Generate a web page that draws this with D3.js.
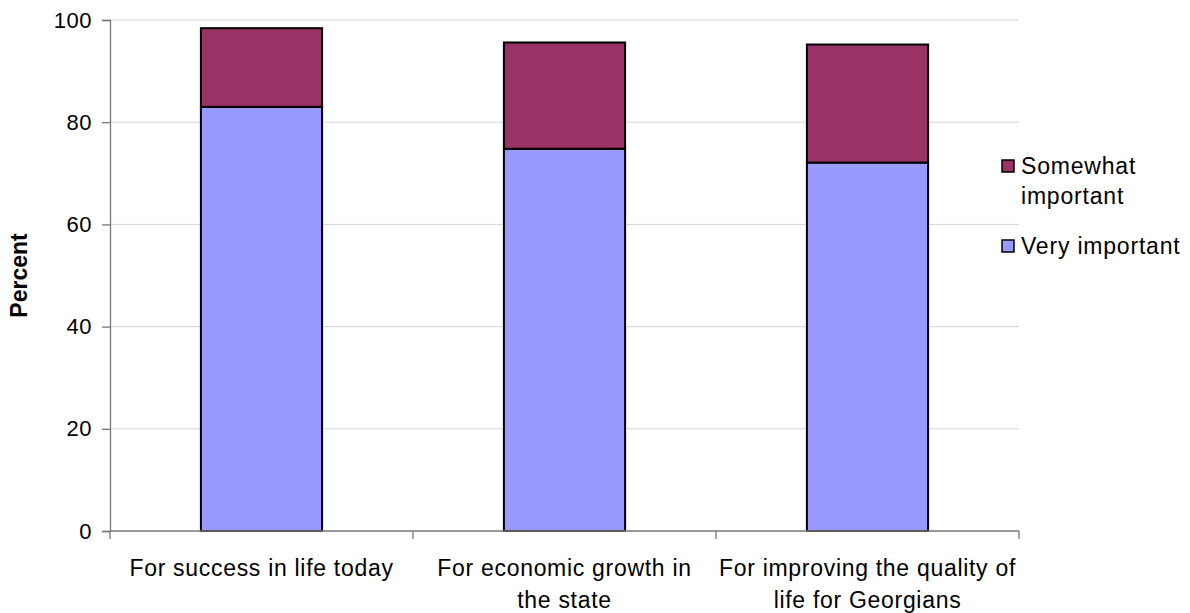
<!DOCTYPE html>
<html>
<head>
<meta charset="utf-8">
<script src="https://cdn.jsdelivr.net/npm/d3@7"></script>
<style>
  html, body { margin: 0; padding: 0; background: #fff; }
  text { font-family: "Liberation Sans", Arial, sans-serif; fill: #000; }
</style>
</head>
<body>
<svg id="chart" width="1190" height="613"></svg>
<script>
// Why each area matters: share of respondents, by level of importance
const categories = ["For success in life today", "For economic growth in the state", "For improving the quality of life for Georgians"];
const categoryLines = [
  ["For success in life today"],
  ["For economic growth in", "the state"],
  ["For improving the quality of", "life for Georgians"]
];
const veryImportant = [83.0, 74.8, 72.1];
const somewhatImportant = [15.4, 20.8, 23.1];
const yTicks = [0, 20, 40, 60, 80, 100];
const seriesNames = ["Very important", "Somewhat important"];
const seriesColors = ["#9999ff", "#993366"];

const svg = d3.select("#chart");
const margin = { left: 110, right: 171, top: 20, bottom: 82 };
const W = 1190, H = 613;
const x0 = margin.left, x1 = W - margin.right;
const yTop = margin.top, yBot = H - margin.bottom;

const x = d3.scaleBand().domain(categories).range([x0, x1]).paddingInner(0.6).paddingOuter(0.3);
const y = d3.scaleLinear().domain([0, 100]).range([yBot, yTop]);

// Horizontal gridlines
svg.append("g").selectAll("line").data(yTicks.filter(t => t > 0)).join("line")
  .attr("x1", x0).attr("x2", x1)
  .attr("y1", d => y(d)).attr("y2", d => y(d))
  .attr("stroke", "#d4d4d4").attr("stroke-width", 1);

// Stacked bars
const stackData = categories.map((c, i) => ({ cat: c, very: veryImportant[i], somewhat: somewhatImportant[i] }));
const stacked = d3.stack().keys(["very", "somewhat"])(stackData);

svg.append("g").selectAll("g").data(stacked).join("g")
  .attr("fill", (d, i) => seriesColors[i])
  .selectAll("rect").data(d => d).join("rect")
  .attr("x", d => x(d.data.cat))
  .attr("width", x.bandwidth())
  .attr("y", d => y(d[1]))
  .attr("height", d => y(d[0]) - y(d[1]))
  .attr("stroke", "#000").attr("stroke-width", 2);

// Y axis
const yAxis = svg.append("g").attr("transform", `translate(${x0},0)`)
  .call(d3.axisLeft(y).tickValues(yTicks).tickSize(8).tickPadding(10));
yAxis.select(".domain").attr("stroke", "#777").attr("stroke-width", 1.3);
yAxis.selectAll(".tick line").attr("stroke", "#777").attr("stroke-width", 1.3);
yAxis.selectAll(".tick text")
  .style("font-family", "Liberation Sans, Arial, sans-serif")
  .style("font-size", "22px").style("letter-spacing", "0.5px").attr("fill", "#000");

// X axis: baseline with ticks at category boundaries
const boundaries = d3.range(categories.length + 1).map(i => x0 + i * (x1 - x0) / categories.length);
svg.append("line").attr("x1", x0).attr("x2", x1).attr("y1", yBot).attr("y2", yBot)
  .attr("stroke", "#777").attr("stroke-width", 1.3);
svg.append("g").selectAll("line").data(boundaries).join("line")
  .attr("x1", d => d).attr("x2", d => d)
  .attr("y1", yBot).attr("y2", yBot + 8)
  .attr("stroke", "#777").attr("stroke-width", 1.3);

// Category labels
const labels = svg.append("g").selectAll("text").data(categories).join("text")
  .attr("text-anchor", "middle")
  .style("font-size", "23px")
  .style("letter-spacing", "0.7px")
  .attr("x", d => x(d) + x.bandwidth() / 2)
  .attr("y", yBot + 45);
labels.each(function (d, i) {
  const t = d3.select(this);
  categoryLines[i].forEach((line, j) => {
    t.append("tspan")
      .attr("x", x(d) + x.bandwidth() / 2)
      .attr("dy", j === 0 ? 0 : 32)
      .text(line);
  });
});

// Y axis title
svg.append("text")
  .attr("transform", `translate(27,${(yTop + yBot) / 2}) rotate(-90)`)
  .attr("text-anchor", "middle")
  .style("font-size", "23px").style("font-weight", "bold")
  .text("Percent");

// Legend
const legend = svg.append("g");
const legendItems = [
  { name: "Somewhat important", lines: ["Somewhat", "important"], color: seriesColors[1], top: 160 },
  { name: "Very important", lines: ["Very important"], color: seriesColors[0], top: 240 }
];
legendItems.forEach(item => {
  legend.append("rect")
    .attr("x", 1002).attr("y", item.top)
    .attr("width", 12).attr("height", 12)
    .attr("fill", item.color).attr("stroke", "#000").attr("stroke-width", 1.5);
  const t = legend.append("text").attr("x", 1021).attr("y", item.top + 14)
    .style("font-size", "23px").style("letter-spacing", "0.8px");
  item.lines.forEach((line, j) => {
    t.append("tspan").attr("x", 1021).attr("dy", j === 0 ? 0 : 30).text(line);
  });
});
</script>
</body>
</html>
